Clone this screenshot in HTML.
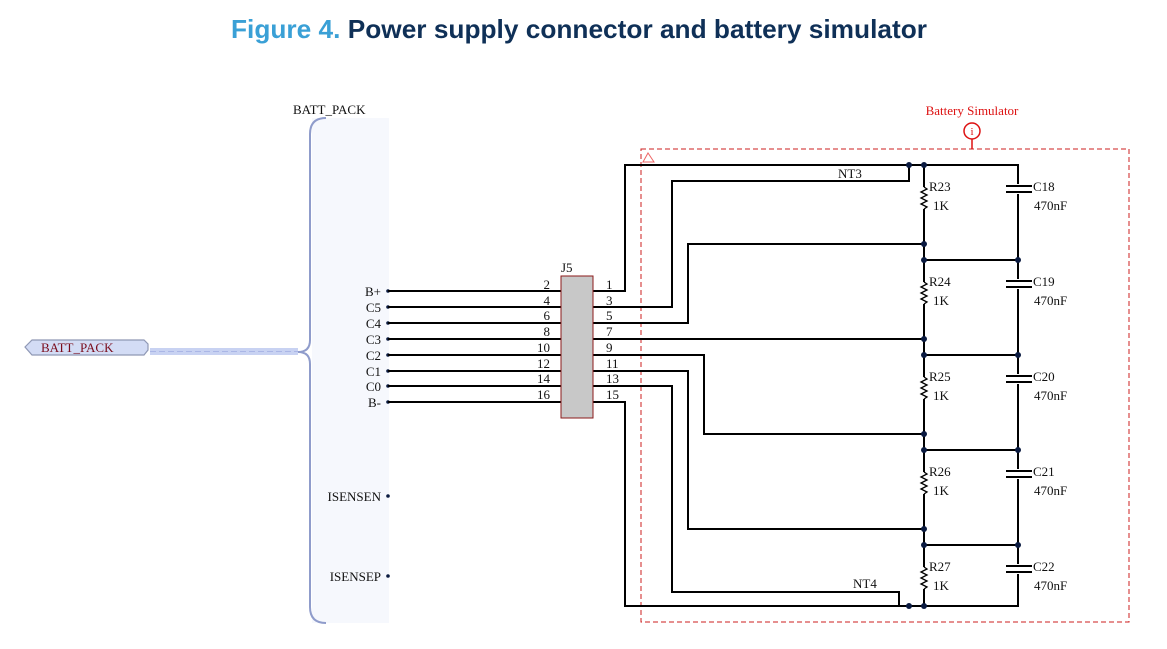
<!DOCTYPE html>
<html><head><meta charset="utf-8"><style>
html,body{margin:0;padding:0;background:#fff;width:1167px;height:649px;overflow:hidden}
svg{display:block}
.t{font-family:"Liberation Serif",serif;font-size:13px;fill:#111}
</style></head><body>
<svg width="1167" height="649" viewBox="0 0 1167 649" xmlns="http://www.w3.org/2000/svg">
<text x="579" y="38" text-anchor="middle" font-family="Liberation Sans,sans-serif" font-weight="bold" font-size="26" textLength="696" lengthAdjust="spacingAndGlyphs"><tspan fill="#3aa0d6">Figure 4.</tspan><tspan fill="#0f3057"> Power supply connector and battery simulator</tspan></text>

<!-- sheet symbol -->
<rect x="312" y="118" width="77" height="505" fill="#f6f8fd"/>
<path d="M326,118 Q310,118 310,134 L310,340 Q310,352 298,352 Q310,352 310,364 L310,607 Q310,623 326,623" fill="none" stroke="#8f9ccb" stroke-width="2"/>
<text class="t" x="293" y="114">BATT_PACK</text>
<polygon points="25,347 32,340 144,340 148,344 148,350 144,355 32,355" fill="#d3dcf5" stroke="#8f98b5" stroke-width="1.2"/>
<text x="41" y="352" font-family="Liberation Serif,serif" font-size="13" fill="#7a0c1c">BATT_PACK</text>
<rect x="150" y="348" width="148" height="7" fill="#c8d2f2"/>
<line x1="150" y1="351.5" x2="298" y2="351.5" stroke="#aab6e6" stroke-width="1" stroke-dasharray="6,3"/>

<g class="t" text-anchor="end">
<text x="381" y="296">B+</text><text x="381" y="312">C5</text><text x="381" y="328">C4</text><text x="381" y="344">C3</text>
<text x="381" y="360">C2</text><text x="381" y="376">C1</text><text x="381" y="391">C0</text><text x="381" y="407">B-</text>
<text x="381" y="501">ISENSEN</text><text x="381" y="581">ISENSEP</text>
</g>
<g fill="#0a1a40">
<circle cx="388" cy="291" r="1.8"/><circle cx="388" cy="307" r="1.8"/><circle cx="388" cy="323" r="1.8"/><circle cx="388" cy="339" r="1.8"/>
<circle cx="388" cy="355" r="1.8"/><circle cx="388" cy="371" r="1.8"/><circle cx="388" cy="386" r="1.8"/><circle cx="388" cy="402" r="1.8"/>
<circle cx="388" cy="496" r="1.8"/><circle cx="388" cy="576" r="1.8"/>
</g>

<!-- dashed box -->
<rect x="641" y="149" width="488" height="473" fill="none" stroke="#cc1f1f" stroke-width="1" stroke-dasharray="5,3"/>
<polygon points="643,162 648,153 654,162" fill="none" stroke="#e66" stroke-width="1"/>
<text x="972" y="115" text-anchor="middle" font-family="Liberation Serif,serif" font-size="13" fill="#d11">Battery Simulator</text>
<circle cx="972" cy="131" r="8" fill="none" stroke="#d11" stroke-width="1.5"/>
<text x="972" y="135" text-anchor="middle" font-family="Liberation Serif,serif" font-size="11" fill="#d11">i</text>
<line x1="972" y1="139" x2="972" y2="149" stroke="#d11" stroke-width="1.5"/>

<!-- wires -->
<g fill="none" stroke="#000" stroke-width="2">
<path d="M388,291H561M388,307H561M388,323H561M388,339H561M388,355H561M388,371H561M388,386H561M388,402H561"/>
<path d="M593,291H625V165H1018V606H909"/>
<path d="M593,307H672V181H909V165"/>
<path d="M593,323H688V244H924"/>
<path d="M593,339H924"/>
<path d="M593,355H704V434H924"/>
<path d="M593,371H688V529H924"/>
<path d="M593,386H672V592H899V606"/>
<path d="M593,402H625V606H924"/>
<path d="M924,165V187M924,209V282M924,304V377M924,399V472M924,494V567M924,589V606"/>
<path d="M924,260H1018M924,355H1018M924,450H1018M924,545H1018"/>
</g>
<!-- resistors -->
<g fill="none" stroke="#000" stroke-width="1.3">
<g id="rz"><path d="M924,187 l3,2 -6,3 6,3 -6,3 6,3 -6,3 6,3 -3,2"/></g>
<use href="#rz" y="95"/><use href="#rz" y="190"/><use href="#rz" y="285"/><use href="#rz" y="380"/>
</g>
<!-- caps -->
<g id="cp"><rect x="1010" y="184" width="17" height="10" fill="#fff"/><path d="M1006,186H1032M1006,192H1032" stroke="#000" stroke-width="2"/></g>
<use href="#cp" y="95"/><use href="#cp" y="190"/><use href="#cp" y="285"/><use href="#cp" y="380"/>
<!-- junction dots -->
<g fill="#0a1a40">
<circle cx="909" cy="165" r="3"/><circle cx="924" cy="165" r="3"/>
<circle cx="924" cy="244" r="3"/><circle cx="924" cy="260" r="3"/><circle cx="1018" cy="260" r="3"/>
<circle cx="924" cy="339" r="3"/><circle cx="924" cy="355" r="3"/><circle cx="1018" cy="355" r="3"/>
<circle cx="924" cy="434" r="3"/><circle cx="924" cy="450" r="3"/><circle cx="1018" cy="450" r="3"/>
<circle cx="924" cy="529" r="3"/><circle cx="924" cy="545" r="3"/><circle cx="1018" cy="545" r="3"/>
<circle cx="909" cy="606" r="3"/><circle cx="924" cy="606" r="3"/>
</g>
<g class="t">
<text x="929" y="191">R23</text><text x="933" y="210">1K</text>
<text x="929" y="286">R24</text><text x="933" y="305">1K</text>
<text x="929" y="381">R25</text><text x="933" y="400">1K</text>
<text x="929" y="476">R26</text><text x="933" y="495">1K</text>
<text x="929" y="571">R27</text><text x="933" y="590">1K</text>
<text x="1033" y="191">C18</text><text x="1034" y="210">470nF</text>
<text x="1033" y="286">C19</text><text x="1034" y="305">470nF</text>
<text x="1033" y="381">C20</text><text x="1034" y="400">470nF</text>
<text x="1033" y="476">C21</text><text x="1034" y="495">470nF</text>
<text x="1033" y="571">C22</text><text x="1034" y="590">470nF</text>
<text x="838" y="178">NT3</text><text x="853" y="588">NT4</text>
<text x="561" y="272">J5</text>
</g>
<!-- connector -->
<rect x="561" y="276" width="32" height="142" fill="#c8c8c8" stroke="#8b1a1a" stroke-width="1"/>
<g class="t" text-anchor="end">
<text x="550" y="289">2</text><text x="550" y="305">4</text><text x="550" y="320">6</text><text x="550" y="336">8</text>
<text x="550" y="352">10</text><text x="550" y="368">12</text><text x="550" y="383">14</text><text x="550" y="399">16</text>
</g>
<g class="t">
<text x="606" y="289">1</text><text x="606" y="305">3</text><text x="606" y="320">5</text><text x="606" y="336">7</text>
<text x="606" y="352">9</text><text x="606" y="368">11</text><text x="606" y="383">13</text><text x="606" y="399">15</text>
</g>
</svg>
</body></html>
